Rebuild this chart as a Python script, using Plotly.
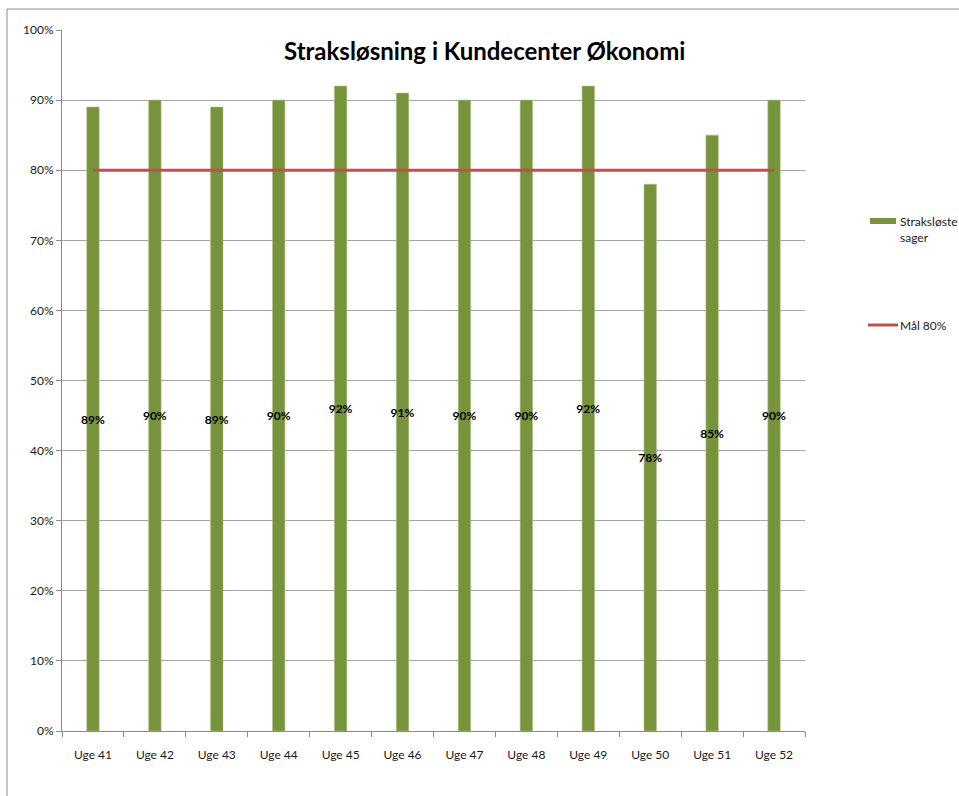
import plotly.graph_objects as go

# Weekly share of cases solved immediately, against the 80 % target
weeks = ["Uge 41", "Uge 42", "Uge 43", "Uge 44", "Uge 45", "Uge 46",
         "Uge 47", "Uge 48", "Uge 49", "Uge 50", "Uge 51", "Uge 52"]
solved_share = [0.89, 0.90, 0.89, 0.90, 0.92, 0.91, 0.90, 0.90, 0.92, 0.78, 0.85, 0.90]
target = [0.80] * len(weeks)

bar_name = "Straksløste<br>sager"
line_name = "Mål 80%"
title_text = "Straksløsning i Kundecenter Økonomi"

W, H = 959, 796
L, R, T, B = 62, 805, 30, 731  # plot area in pixels


def px_x(px):
    return (px - L) / (R - L)


def px_y(py):
    return (B - py) / (B - T)


FONT = "Lato, 'Open Sans', sans-serif"
GREEN = "#77933C"
RED = "#C0504D"
TEXT = "#1a1a1a"

fig = go.Figure()
fig.add_trace(go.Bar(
    x=weeks, y=solved_share, width=0.2,
    marker=dict(color=GREEN, line=dict(color="#a8bf80", width=0.6)),
    text=[f"{v:.0%}" for v in solved_share],
    textposition="inside", insidetextanchor="middle",
    textangle=0, constraintext="none",
    insidetextfont=dict(family=FONT, size=12, color="black", weight="bold"),
    showlegend=False, hoverinfo="x+y",
))
fig.add_trace(go.Scatter(
    x=weeks, y=target, mode="lines",
    line=dict(color=RED, width=3),
    showlegend=False,
))

shapes = [
    # outer chart frame (top and left edges)
    dict(type="line", xref="paper", yref="paper",
         x0=px_x(7), x1=px_x(W + 5), y0=px_y(9), y1=px_y(9),
         line=dict(color="#8c8c8c", width=1)),
    dict(type="line", xref="paper", yref="paper",
         x0=px_x(7), x1=px_x(7), y0=px_y(9), y1=px_y(H + 5),
         line=dict(color="#8c8c8c", width=1)),
    # legend keys
    dict(type="rect", xref="paper", yref="paper",
         x0=px_x(870), x1=px_x(896), y0=px_y(224), y1=px_y(218),
         fillcolor=GREEN, line=dict(width=0)),
    dict(type="line", xref="paper", yref="paper",
         x0=px_x(868), x1=px_x(898), y0=px_y(325), y1=px_y(325),
         line=dict(color=RED, width=3)),
]

annotations = [
    dict(text=f"<b>{title_text}</b>", xref="paper", yref="paper",
         x=px_x(484), y=px_y(50), xanchor="center", yanchor="middle",
         showarrow=False, font=dict(family=FONT, size=24, color="black")),
    dict(text=bar_name, xref="paper", yref="paper",
         x=px_x(898), y=px_y(212), xanchor="left", yanchor="top", align="left",
         showarrow=False, font=dict(family=FONT, size=12, color=TEXT)),
    dict(text=line_name, xref="paper", yref="paper",
         x=px_x(898), y=px_y(325), xanchor="left", yanchor="middle", align="left",
         showarrow=False, font=dict(family=FONT, size=12, color=TEXT)),
]

fig.update_layout(
    width=W, height=H,
    margin=dict(l=L, r=W - R, t=T, b=H - B, autoexpand=False),
    paper_bgcolor="white", plot_bgcolor="white",
    font=dict(family=FONT, size=12, color=TEXT),
    shapes=shapes, annotations=annotations,
    bargap=0.8,
)
fig.update_yaxes(
    range=[0, 1], dtick=0.1, tickformat=".0%",
    showgrid=True, gridcolor="#a6a6a6", gridwidth=1,
    showline=True, linecolor="#8c8c8c", linewidth=1,
    ticks="outside", ticklen=5, tickcolor="#8c8c8c",
    zeroline=False, tickfont=dict(size=12),
)
fig.update_xaxes(
    showline=True, linecolor="#8c8c8c", linewidth=1,
    ticks="outside", ticklen=5, tickcolor="#8c8c8c", tickson="boundaries",
    showgrid=False, tickfont=dict(size=12), ticklabelstandoff=13,
)

fig.write_html("out.html")
